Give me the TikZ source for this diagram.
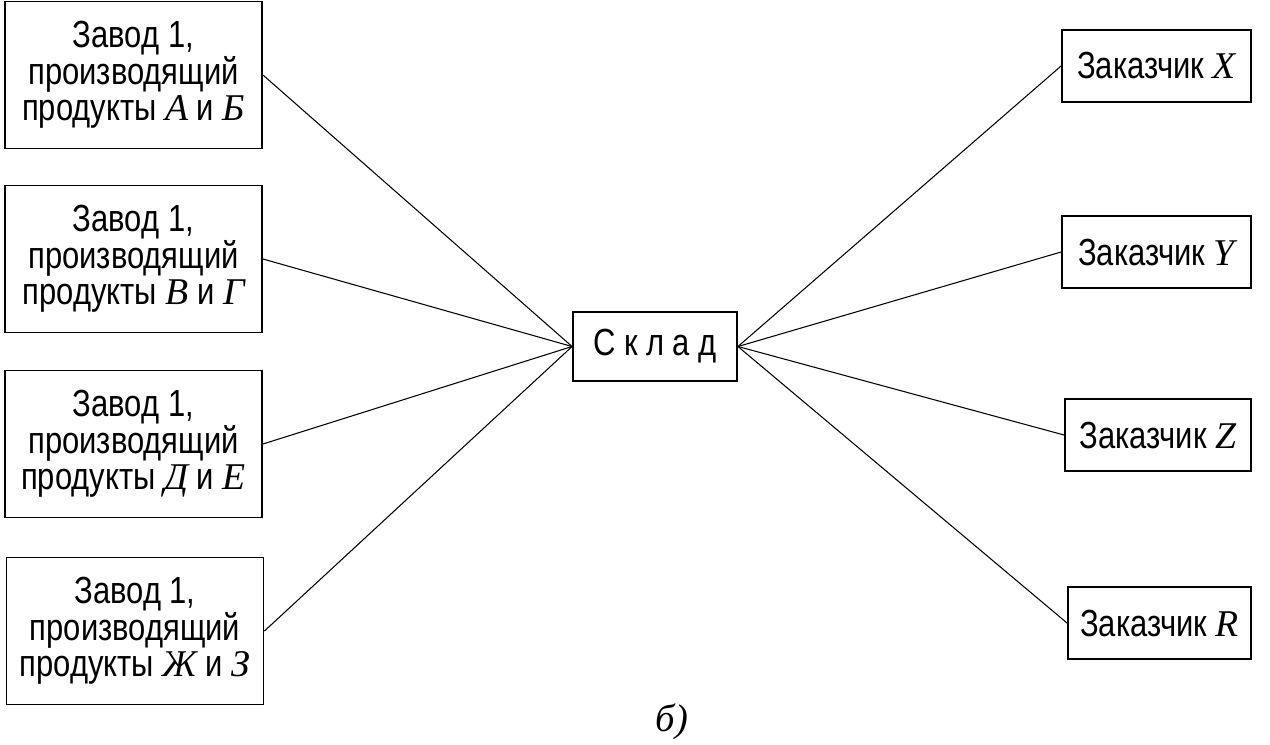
\documentclass[tikz,border=0pt]{standalone}
\usepackage{fontspec}
\setmainfont{Liberation Sans}[FakeStretch=0.82]
\newfontfamily\letterfont{Liberation Serif}
\newcommand{\lit}[1]{{\letterfont\itshape #1}}
\begin{document}
\begin{tikzpicture}
		[x=0.02cm,y=-0.02cm,
		 plant/.style={draw,line width=1.1pt,minimum width=5.14cm,minimum height=2.94cm,
			align=center,font=\fontsize{21.5pt}{20.7pt}\selectfont},
		 client/.style={draw,line width=1.1pt,minimum height=1.44cm,
			font=\fontsize{21.5pt}{21pt}\selectfont},
		 link/.style={line width=0.6pt}]
		\useasboundingbox (0,0) rectangle (1270,744);

		% the four plants on the left
		\node[plant] (plantAB) at (133.5,75) {Завод 1,\\производящий\\продукты \lit{А} и \lit{Б}};
		\node[plant] (plantVG) at (133.5,259) {Завод 1,\\производящий\\продукты \lit{В} и \lit{Г}};
		\node[plant] (plantDE) at (133.5,444) {Завод 1,\\производящий\\продукты \lit{Д} и \lit{Е}};
		\node[plant] (plantZhZ) at (135,631) {Завод 1,\\производящий\\продукты \lit{Ж} и \lit{З}};

		% the warehouse in the middle
		\node[draw,line width=1.1pt,minimum width=3.28cm,minimum height=1.38cm,
			font=\fontsize{21.5pt}{21pt}\selectfont\addfontfeature{LetterSpace=22}] (store) at (655,346.5) {Склад};

		% the clients on the right
		\node[client,minimum width=3.78cm] (clientX) at (1156.5,66) {Заказчик \lit{X}};
		\node[client,minimum width=3.78cm] (clientY) at (1156.5,252) {Заказчик \lit{Y}};
		\node[client,minimum width=3.72cm] (clientZ) at (1158,435) {Заказчик \lit{Z}};
		\node[client,minimum width=3.66cm] (clientR) at (1159.5,623) {Заказчик \lit{R}};

		% the links
		\draw [link] (plantAB.east) -- (store.west);
		\draw [link] (plantVG.east) -- (store.west);
		\draw [link] (plantDE.east) -- (store.west);
		\draw [link] (plantZhZ.east) -- (store.west);
		\draw [link] (store.east) -- (clientX.west);
		\draw [link] (store.east) -- (clientY.west);
		\draw [link] (store.east) -- (clientZ.west);
		\draw [link] (store.east) -- (clientR.west);

		\node[font=\fontsize{22pt}{22pt}\selectfont] (caption) at (672,722) {\lit{б)}};
	\end{tikzpicture}
\end{document}
